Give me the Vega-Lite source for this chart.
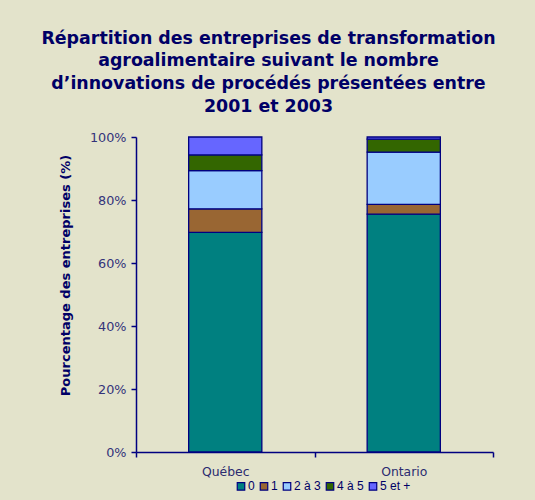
{
  "$schema": "https://vega.github.io/schema/vega-lite/v6.json",
  "width": 357,
  "height": 315,
  "autosize": {"type": "none"},
  "padding": {"left": 136, "top": 137, "right": 42, "bottom": 48},
  "background": "#E3E3CB",
  "title": {
    "text": ["Répartition des entreprises de transformation", "agroalimentaire suivant le nombre", "d’innovations de procédés présentées entre", "2001 et 2003"],
    "font": "DejaVu Sans",
    "fontSize": 17.4,
    "fontWeight": "bold",
    "color": "#000066",
    "lineHeight": 22.7,
    "anchor": "middle",
    "dx": -46,
    "offset": 16
  },
  "data": {
    "values": [
      {"region": "Québec", "nb": "0", "ord": 0, "pct": 69.7},
      {"region": "Québec", "nb": "1", "ord": 1, "pct": 7.5},
      {"region": "Québec", "nb": "2 à 3", "ord": 2, "pct": 12.1},
      {"region": "Québec", "nb": "4 à 5", "ord": 3, "pct": 5.0},
      {"region": "Québec", "nb": "5 et +", "ord": 4, "pct": 5.7},
      {"region": "Ontario", "nb": "0", "ord": 0, "pct": 75.5},
      {"region": "Ontario", "nb": "1", "ord": 1, "pct": 3.1},
      {"region": "Ontario", "nb": "2 à 3", "ord": 2, "pct": 16.6},
      {"region": "Ontario", "nb": "4 à 5", "ord": 3, "pct": 4.1},
      {"region": "Ontario", "nb": "5 et +", "ord": 4, "pct": 0.7}
    ]
  },
  "mark": {"type": "bar", "stroke": "#000080", "strokeWidth": 1.3, "width": {"band": 0.41}},
  "encoding": {
    "x": {
      "field": "region",
      "type": "nominal",
      "sort": ["Québec", "Ontario"],
      "scale": {"paddingInner": 0, "paddingOuter": 0},
      "axis": {
        "title": null,
        "labelAngle": 0,
        "tickBand": "extent",
        "tickSize": 5,
        "labelPadding": 8,
        "labelFont": "DejaVu Sans",
        "labelFontSize": 12.4,
        "labelColor": "#2B2B70",
        "domainColor": "#000080",
        "tickColor": "#000080",
        "domainWidth": 1.5,
        "tickWidth": 1.5
      }
    },
    "y": {
      "field": "pct",
      "type": "quantitative",
      "stack": "normalize",
      "scale": {"domain": [0, 1], "nice": false},
      "axis": {
        "title": "Pourcentage des entreprises  (%)",
        "titleFont": "DejaVu Sans",
        "titleFontSize": 13,
        "titleFontWeight": "bold",
        "titleColor": "#000066",
        "titleAngle": -90,
        "titleX": -71,
        "titleY": 138,
        "titleAlign": "center",
        "titleBaseline": "middle",
        "format": ".0%",
        "values": [0, 0.2, 0.4, 0.6, 0.8, 1],
        "grid": false,
        "tickSize": 5,
        "labelPadding": 5,
        "labelFont": "DejaVu Sans",
        "labelFontSize": 12.8,
        "labelColor": "#33337A",
        "domainColor": "#000080",
        "tickColor": "#000080",
        "domainWidth": 1.5,
        "tickWidth": 1.5
      }
    },
    "color": {
      "field": "nb",
      "type": "nominal",
      "scale": {
        "domain": ["0", "1", "2 à 3", "4 à 5", "5 et +"],
        "range": ["#008080", "#996633", "#99CCFF", "#336600", "#6666FF"]
      },
      "legend": {
        "title": null,
        "orient": "none",
        "direction": "horizontal",
        "legendX": 99,
        "legendY": 343,
        "symbolType": "square",
        "symbolSize": 56,
        "symbolStrokeColor": "#000080",
        "symbolStrokeWidth": 1.2,
        "symbolOpacity": 1,
        "labelFont": "Liberation Sans",
        "labelFontSize": 12,
        "labelColor": "#000066",
        "labelOffset": 1,
        "columnPadding": 2
      }
    },
    "order": {"field": "ord", "type": "quantitative", "sort": "ascending"}
  },
  "config": {"view": {"stroke": null}}
}
